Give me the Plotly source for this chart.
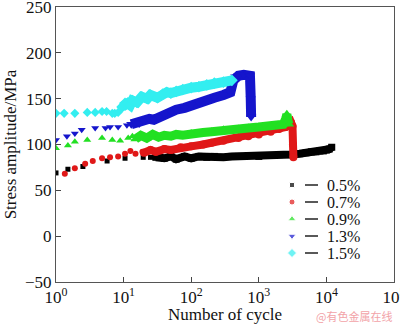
import plotly.graph_objects as go

# ---------------- data ----------------
labels = ["0.5%", "0.7%", "0.9%", "1.3%", "1.5%"]
colors = ["#000000", "#e01818", "#22e022", "#1515cc", "#33eef0"]
symbols = ["square", "circle", "triangle-up", "triangle-down", "diamond"]
msizes = [5, 6, 7, 7, 7]

# 0.5%
n05_sparse = [1, 1.5, 2.5, 5.7, 10.5, 19.5, 25]
s05_sparse = [69, 73, 76, 82, 85, 86, 86]
n05_dense = [30, 40, 50, 60, 80, 100, 130, 170, 220, 300, 400, 500, 700, 1000, 1500,
             2000, 3000, 4000, 5000, 6000, 7000, 8000, 9000, 10000, 11000, 12000]
s05_dense = [86, 85, 87, 84, 87, 85, 87, 86, 87, 86, 87, 87, 88, 87, 88,
             89, 89, 90, 91, 92, 92, 93, 93, 94, 95, 97]

# 0.7%
n07_sparse = [1.35, 1.9, 2.7, 3.5, 4.8, 6.3, 8.3, 10.5, 12.6, 15, 19]
s07_sparse = [68, 74, 79, 82, 85, 86, 87, 90, 93, 90, 92]
n07_dense = [20, 25, 30, 40, 50, 70, 100, 150, 200, 300, 500, 700, 1000, 1500,
             2000, 2500, 2800, 3000, 3150, 3200, 3250]
s07_dense = [91, 94, 92, 95, 94, 97, 98, 100, 102, 104, 107, 109, 111, 114,
             117, 119, 122, 124, 120, 100, 86]

# 0.9%
n09_sparse = [1, 1.5, 1.9, 2.9, 4.8, 6.8, 8.9, 11.7, 13.5]
s09_sparse = [96, 99, 103, 105, 107, 105, 104, 107, 109]
n09_dense = [15, 18, 22, 27, 33, 40, 50, 60, 75, 100, 150, 200, 300, 500, 700,
             1000, 1500, 2000, 2300, 2500, 2600, 2700, 2800]
s09_dense = [106, 110, 107, 111, 108, 110, 109, 111, 110, 112, 113, 114, 116, 117, 118,
             119, 120, 121, 122, 128, 133, 126, 122]

# 1.3%
n13_sparse = [1, 1.45, 1.9, 2.4, 3.8, 5.4, 6.3, 8.3, 11.2]
s13_sparse = [105, 109, 112, 116, 118, 118, 119, 119, 121]
n13_dense = [13, 15, 17, 20, 24, 28, 33, 40, 50, 60, 80, 100, 130, 170, 220, 300,
             380, 420, 450, 500, 600, 700, 740, 760, 770]
s13_dense = [122, 124, 123, 126, 128, 127, 130, 133, 136, 138, 140, 143, 146, 148, 151, 154,
             157, 170, 174, 175, 176, 177, 175, 150, 130]

# 1.5%
n15_sparse = [1, 1.32, 1.9, 2.9, 3.8, 4.8, 5.6, 6.8, 7.4, 8.3]
s15_sparse = [134, 134, 134, 135, 135, 136, 136, 134, 134, 135]
n15_dense = [9.5, 10.5, 11.5, 12.5, 13.5, 15.8, 18.6, 22.4, 25, 31.6, 38, 43.6, 50, 60,
             75, 100, 130, 170, 220, 300, 400]
s15_dense = [141, 145, 145, 143, 148, 146, 152, 150, 154, 151, 155, 157, 156, 158,
             160, 162, 163, 165, 167, 168, 170]

sparse_n = [n05_sparse, n07_sparse, n09_sparse, n13_sparse, n15_sparse]
sparse_s = [s05_sparse, s07_sparse, s09_sparse, s13_sparse, s15_sparse]
dense_n = [n05_dense, n07_dense, n09_dense, n13_dense, n15_dense]
dense_s = [s05_dense, s07_dense, s09_dense, s13_dense, s15_dense]
line_w = [8, 8, 9, 10, 10]

x_tickvals = [1, 10, 100, 1000, 10000, 100000]
x_ticktext = ["10<sup>0</sup>", "10<sup>1</sup>", "10<sup>2</sup>",
              "10<sup>3</sup>", "10<sup>4</sup>", "10<sup>5</sup>"]
y_tickvals = [-50, 0, 50, 100, 150, 200, 250]

FONT = "Liberation Serif"

fig = go.Figure()
for i in range(5):
    fig.add_trace(go.Scatter(
        x=dense_n[i], y=dense_s[i], mode="lines+markers",
        line=dict(color=colors[i], width=line_w[i]),
        marker=dict(symbol=symbols[i], size=msizes[i] + 2, color=colors[i]),
        showlegend=False, hoverinfo="skip"))
    fig.add_trace(go.Scatter(
        x=sparse_n[i], y=sparse_s[i], mode="markers",
        marker=dict(symbol=symbols[i], size=msizes[i], color=colors[i]),
        showlegend=False, hoverinfo="skip"))

# ---- manual legend on a hidden overlay axis in pixel-like coords ----
leg_x = [292] * 5
leg_y = [185, 202, 219, 236, 253]
fig.add_trace(go.Scatter(
    x=leg_x, y=leg_y, mode="markers", xaxis="x2", yaxis="y2",
    marker=dict(symbol=symbols, size=[5, 6, 7, 7, 7], color=colors),
    showlegend=False, hoverinfo="skip"))
for yy, lab in zip(leg_y, labels):
    fig.add_shape(type="line", xref="x2", yref="y2", x0=305, x1=318, y0=yy, y1=yy,
                  line=dict(color="#222", width=1.5))
    fig.add_annotation(x=326, y=yy, xref="x2", yref="y2", text=lab, showarrow=False,
                       xanchor="left", yanchor="middle", borderpad=0,
                       font=dict(family=FONT, size=16, color="#111"))

fig.add_annotation(x=1, y=0, xref="paper", yref="paper", text="@有色金属在线",
                   showarrow=False, xanchor="right", yanchor="middle", yshift=-34,
                   font=dict(family="Noto Sans CJK SC", size=11, color="#f2a3a8"))

fig.update_layout(
    width=400, height=324,
    margin=dict(l=56, r=6, t=7, b=42, autoexpand=False),
    paper_bgcolor="white", plot_bgcolor="white",
    font=dict(family=FONT, size=17, color="#111"),
    xaxis=dict(type="log", range=[0, 5], tickvals=x_tickvals, ticktext=x_ticktext,
               ticks="inside", ticklen=5, tickcolor="#444", showgrid=False,
               zeroline=False, showline=True, linecolor="#555", linewidth=1, mirror=True,
               ticklabeloverflow="allow", automargin=False,
               title=dict(text="Number of cycle", font=dict(family=FONT, size=17), standoff=2),
               tickfont=dict(family=FONT, size=17)),
    yaxis=dict(range=[-50, 250], tickvals=y_tickvals, ticks="inside", ticklen=5,
               tickcolor="#444", showgrid=False, zeroline=False, showline=True,
               linecolor="#555", linewidth=1, mirror=True, ticklabeloverflow="allow",
               automargin=False,
               title=dict(text="Stress amplitude/MPa", font=dict(family=FONT, size=17), standoff=4),
               tickfont=dict(family=FONT, size=17)),
    xaxis2=dict(range=[56, 394], overlaying="x", anchor="y2", visible=False,
                showgrid=False, zeroline=False, automargin=False),
    yaxis2=dict(range=[282, 7], overlaying="y", anchor="x2", visible=False,
                showgrid=False, zeroline=False, automargin=False),
)

fig.write_html("out.html")
